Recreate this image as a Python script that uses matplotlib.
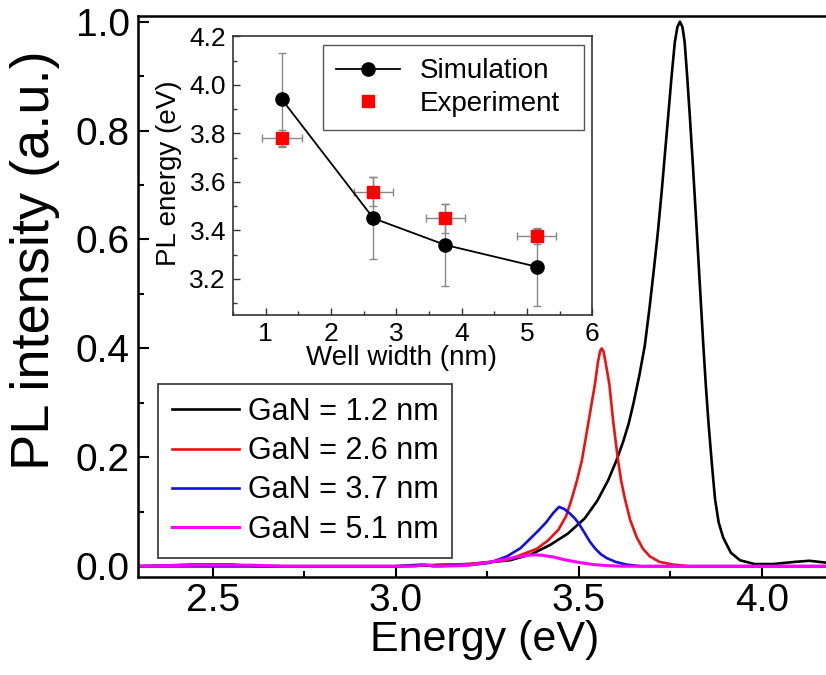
import numpy as np
import matplotlib
matplotlib.use("Agg")
import matplotlib.pyplot as plt
from matplotlib.ticker import MultipleLocator, FormatStrFormatter

plt.rcParams['font.family'] = ['Liberation Sans', 'DejaVu Sans']

# PL spectra, energy (eV) vs normalised intensity
e_12 = [2.29, 2.45, 2.55, 2.62, 3.00, 3.20, 3.25, 3.312, 3.37, 3.421, 3.47, 3.516, 3.55,
        3.580, 3.603, 3.621, 3.636, 3.649, 3.665, 3.680, 3.693, 3.705, 3.716, 3.726,
        3.735, 3.744, 3.753, 3.762, 3.769, 3.776, 3.783, 3.789, 3.796, 3.803, 3.812,
        3.822, 3.831, 3.840, 3.847, 3.854, 3.863, 3.872, 3.882, 3.894, 3.915, 3.94,
        3.98, 4.03, 4.09, 4.13, 4.17, 4.20]
i_12 = [0.0, 0.003, 0.003, 0.0, 0.0, 0.004, 0.007, 0.011, 0.022, 0.039, 0.060, 0.088, 0.120,
        0.158, 0.195, 0.229, 0.262, 0.299, 0.350, 0.405, 0.475, 0.546, 0.615, 0.687,
        0.757, 0.827, 0.898, 0.962, 0.990, 1.000, 0.990, 0.962, 0.898, 0.827, 0.730,
        0.616, 0.510, 0.405, 0.330, 0.264, 0.190, 0.123, 0.080, 0.053, 0.025, 0.011,
        0.004, 0.004, 0.008, 0.010, 0.007, 0.005]

e_26 = [2.29, 3.00, 3.20, 3.303, 3.385, 3.415, 3.444, 3.465, 3.480, 3.495, 3.508, 3.517,
        3.526, 3.535, 3.544, 3.552, 3.558, 3.562, 3.567, 3.574, 3.583, 3.594, 3.607,
        3.616, 3.626, 3.640, 3.658, 3.675, 3.694, 3.72, 3.758, 3.80, 4.20]
i_26 = [0.0, 0.0, 0.004, 0.011, 0.032, 0.047, 0.067, 0.092, 0.123, 0.158, 0.194, 0.229,
        0.264, 0.300, 0.335, 0.375, 0.395, 0.400, 0.395, 0.370, 0.335, 0.264, 0.194,
        0.155, 0.123, 0.085, 0.053, 0.032, 0.018, 0.008, 0.003, 0.0, 0.0]

e_37 = [2.29, 3.00, 3.07, 3.10, 3.20, 3.254, 3.303, 3.34, 3.366, 3.39, 3.411, 3.43, 3.446,
        3.46, 3.475, 3.49, 3.50, 3.512, 3.53, 3.545, 3.56, 3.576, 3.60, 3.63, 3.67, 4.20]
i_37 = [0.0, 0.0, 0.003, 0.0, 0.002, 0.006, 0.018, 0.033, 0.050, 0.066, 0.081, 0.098, 0.109,
        0.105, 0.097, 0.087, 0.078, 0.065, 0.045, 0.032, 0.022, 0.015, 0.008, 0.003, 0.0, 0.0]

e_51 = [2.29, 2.45, 2.60, 2.70, 3.05, 3.08, 3.11, 3.18, 3.22, 3.26, 3.30, 3.33, 3.36, 3.38,
        3.40, 3.43, 3.46, 3.50, 3.54, 3.58, 3.62, 4.20]
i_51 = [0.0, 0.002, 0.002, 0.0, 0.0, 0.003, 0.0, 0.001, 0.004, 0.008, 0.013, 0.017, 0.020,
        0.021, 0.020, 0.017, 0.012, 0.007, 0.003, 0.001, 0.0, 0.0]

spectra = [
    (e_12, i_12, 'black', 'GaN = 1.2 nm'),
    (e_26, i_26, '#ee1111', 'GaN = 2.6 nm'),
    (e_37, i_37, '#1111dd', 'GaN = 3.7 nm'),
    (e_51, i_51, '#ff00ff', 'GaN = 5.1 nm'),
]

# inset: PL peak energy vs well width
well_w = [1.25, 2.65, 3.75, 5.15]
pl_sim = [3.94, 3.45, 3.34, 3.25]
pl_sim_err = [0.19, 0.17, 0.17, 0.16]
pl_exp = [3.78, 3.56, 3.45, 3.375]
pl_exp_err = [0.035, 0.06, 0.06, 0.03]
well_w_err = [0.3, 0.3, 0.3, 0.3]

fig = plt.figure(figsize=(8.26, 6.75), dpi=100)
ax = fig.add_axes([0.167, 0.145, 0.844, 0.831])

for e, inten, col, lab in spectra:
    lw = 2.2 if col == '#ff00ff' else 1.9
    ax.plot(e, inten, color=col, lw=lw, label=lab)

ax.set_xlim(2.295, 4.2)
ax.set_ylim(-0.02, 1.01)
ax.xaxis.set_major_locator(MultipleLocator(0.5))
ax.xaxis.set_minor_locator(MultipleLocator(0.25))
ax.yaxis.set_major_locator(MultipleLocator(0.2))
ax.yaxis.set_minor_locator(MultipleLocator(0.1))
ax.yaxis.set_major_formatter(FormatStrFormatter('%.1f'))
ax.xaxis.set_major_formatter(FormatStrFormatter('%.1f'))
ax.tick_params(which='both', direction='in', top=False, right=False, width=1.5)
ax.tick_params(which='major', length=8, labelsize=28, pad=6)
ax.tick_params(axis='x', which='major', pad=4)
ax.tick_params(which='minor', length=4)
for s in ax.spines.values():
    s.set_linewidth(1.8)

ax.set_xlabel('Energy (eV)', fontsize=31, va='center')
ax.set_ylabel('PL intensity (a.u.)', fontsize=39, va='center')
ax.yaxis.set_label_coords(-0.148, 0.565)
ax.xaxis.set_label_coords(0.497, -0.112)

leg = ax.legend(loc='lower left', bbox_to_anchor=(0.029, 0.034), borderaxespad=0,
                fontsize=22, handlelength=2.2, handletextpad=0.3, labelspacing=0.3,
                borderpad=0.44, fancybox=False, framealpha=1)
leg.get_frame().set_edgecolor('#404040')
leg.get_frame().set_linewidth(1.3)

# inset
ins = fig.add_axes([0.282, 0.533, 0.435, 0.413])
ins.set_facecolor('white')
ins.errorbar(well_w, pl_sim, yerr=pl_sim_err, fmt='none', ecolor='#888888',
             elinewidth=1, capsize=3, capthick=1, zorder=2)
ins.errorbar(well_w, pl_exp, xerr=well_w_err, yerr=pl_exp_err, fmt='none',
             ecolor='#888888', elinewidth=1, capsize=3, capthick=1, zorder=2)
ins.plot(well_w, pl_sim, color='black', lw=1.3, marker='o', ms=9.5,
         label='Simulation', zorder=4)
ins.plot(well_w, pl_exp, ls='none', color='#ff0000', marker='s', ms=8,
         label='Experiment', zorder=3)

ins.set_xlim(0.5, 6.0)
ins.set_ylim(3.05, 4.2)
ins.xaxis.set_major_locator(MultipleLocator(1))
ins.xaxis.set_minor_locator(MultipleLocator(0.5))
ins.yaxis.set_major_locator(MultipleLocator(0.2))
ins.yaxis.set_minor_locator(MultipleLocator(0.1))
ins.yaxis.set_major_formatter(FormatStrFormatter('%.1f'))
ins.tick_params(which='both', direction='in', top=False, right=False, width=1,
                color='#333333')
ins.tick_params(which='major', length=5, labelsize=19, pad=5)
ins.tick_params(which='minor', length=3)
for s in ins.spines.values():
    s.set_linewidth(1.2)
    s.set_color('#333333')

ins.set_xlabel('Well width (nm)', fontsize=20, va='center')
ins.set_ylabel('PL energy (eV)', fontsize=20, va='center')
ins.xaxis.set_label_coords(0.468, -0.154)
ins.yaxis.set_label_coords(-0.177, 0.509)

ileg = ins.legend(loc='upper left', bbox_to_anchor=(0.251, 0.667, 0.727, 0.301),
                  mode='expand', borderaxespad=0, fontsize=20, handlelength=2.3,
                  handletextpad=0.72, labelspacing=0.22, borderpad=0.47,
                  fancybox=False, framealpha=1)
ileg.get_frame().set_edgecolor('#555555')
ileg.get_frame().set_linewidth(1.0)

fig.savefig('out.png', dpi=100)
